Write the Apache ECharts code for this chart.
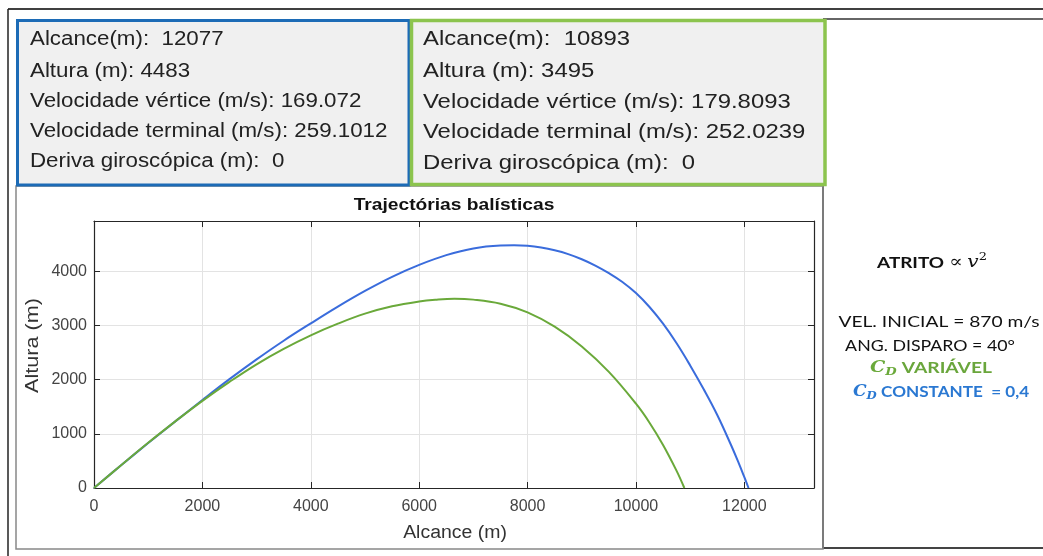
<!DOCTYPE html>
<html><head><meta charset="utf-8">
<script src="https://cdn.jsdelivr.net/npm/echarts@6/dist/echarts.min.js"></script>
<style>html,body{margin:0;padding:0;background:#fff}#c{width:1043px;height:556px}</style>
</head><body><div id="c"></div>
<script>
// ---- data ----
const blueX = [0, 500, 1000, 1500, 2000, 2500, 3000, 3500, 4000, 4500, 5000, 5500, 6000, 6500, 7000, 7500, 7750, 8000, 8250, 8500, 8750, 9000, 9250, 9500, 9750, 10000, 10250, 10500, 10750, 11000, 11250, 11500, 11750, 11900, 12000, 12077];
const blueY = [0, 420, 830, 1230, 1625, 2010, 2375, 2720, 3040, 3350, 3640, 3900, 4120, 4300, 4425, 4478, 4483, 4473, 4442, 4391, 4320, 4225, 4108, 3968, 3805, 3600, 3343, 3034, 2673, 2264, 1823, 1348, 803, 450, 200, 0];
const greenX = [0, 500, 1000, 1500, 2000, 2500, 3000, 3500, 4000, 4500, 5000, 5500, 6000, 6300, 6650, 7000, 7500, 8000, 8500, 9000, 9500, 10000, 10250, 10500, 10750, 10893];
const greenY = [0, 420, 835, 1230, 1610, 1960, 2285, 2570, 2820, 3035, 3220, 3355, 3445, 3477, 3495, 3479, 3404, 3244, 2979, 2614, 2144, 1556, 1206, 796, 317, 0];
const xMax = 13285, yMax = 4931, xStep = 2000, yStep = 1000;
const chartTitle = 'Trajectórias balísticas';
const xName = 'Alcance (m)', yName = 'Altura (m)';
const blueInfo = ['Alcance(m):  12077', 'Altura (m): 4483', 'Velocidade vértice (m/s): 169.072', 'Velocidade terminal (m/s): 259.1012', 'Deriva giroscópica (m):  0'];
const greenInfo = ['Alcance(m):  10893', 'Altura (m): 3495', 'Velocidade vértice (m/s): 179.8093', 'Velocidade terminal (m/s): 252.0239', 'Deriva giroscópica (m):  0'];
const sideLines = ['VEL. INICIAL = 870 m/s', 'ANG. DISPARO = 40°'];

// ---- chart ----
const BLUE = '#3a6cdc', GREEN = '#6aa93a';
const AX = '#262626';
const pairs = (xs, ys) => xs.map((x, i) => [x, ys[i]]);
const SANS = '"Liberation Sans", Arial, sans-serif';

function t(x, y, text, font, fill, align, extra) {
  return Object.assign({
    type: 'text', x: x, y: y,
    style: { text: text, font: font, fill: fill, textAlign: align, align: align, textVerticalAlign: 'middle', verticalAlign: 'middle' }
  }, extra || {});
}

const graphics = [];
// outer frame lines
graphics.push({ type: 'line', shape: { x1: 8, y1: 9, x2: 1043, y2: 9 }, style: { stroke: '#000', lineWidth: 1.5 } });
graphics.push({ type: 'line', shape: { x1: 8, y1: 9, x2: 8, y2: 556 }, style: { stroke: '#222', lineWidth: 1.5 } });
// right panel
graphics.push({ type: 'line', shape: { x1: 823, y1: 19, x2: 1043, y2: 19 }, style: { stroke: '#666', lineWidth: 2 } });
graphics.push({ type: 'line', shape: { x1: 823, y1: 19, x2: 823, y2: 549 }, style: { stroke: '#555', lineWidth: 2 } });
graphics.push({ type: 'line', shape: { x1: 823, y1: 548, x2: 1043, y2: 548 }, style: { stroke: '#444', lineWidth: 2 } });
// plot panel
graphics.push({ type: 'rect', shape: { x: 16, y: 186, width: 807, height: 363 }, style: { fill: 'none', stroke: '#888', lineWidth: 1.5 } });
// info boxes
graphics.push({ type: 'rect', shape: { x: 17.5, y: 20.5, width: 391.5, height: 164.5 }, style: { fill: '#f0f0f0', stroke: '#1c6bb6', lineWidth: 3 } });
graphics.push({ type: 'rect', shape: { x: 411.5, y: 20.5, width: 413.5, height: 164 }, style: { fill: '#f0f0f0', stroke: '#8cc44e', lineWidth: 3.5 } });
const blueYs = [40, 71.5, 101.5, 131.5, 161.5];
blueInfo.forEach((s, i) => graphics.push(t(30, blueYs[i], s, '19.5px ' + SANS, '#222', 'left', { scaleX: 1.145 })));
const greenYs = [39, 71.5, 102, 132.5, 163];
greenInfo.forEach((s, i) => graphics.push(t(423, greenYs[i], s, '20.5px ' + SANS, '#222', 'left', { scaleX: 1.165 })));
// title and axis names
graphics.push(t(454, 205, chartTitle, 'bold 17px ' + SANS, '#111', 'center', { scaleX: 1.13 }));
graphics.push(t(455, 533, xName, '18px ' + SANS, '#333', 'center', { scaleX: 1.08 }));
graphics.push(t(33, 345.5, yName, '18px ' + SANS, '#333', 'center', { rotation: Math.PI / 2, scaleX: 1.2 }));
// side panel
function rich(x, y, text, richStyles, sx) {
  return { type: 'text', x: x, y: y, scaleX: sx, style: { text: text, rich: richStyles, textAlign: 'center', align: 'center', textVerticalAlign: 'middle', verticalAlign: 'middle', font: '16px Lato, sans-serif', fill: '#111' } };
}
graphics.push(rich(932, 263, '{b|ATRITO} {m|∝} {v|v}{s|2}', {
  b: { fontFamily: 'Lato', fontWeight: 'bold', fontSize: 16, fill: '#111', lineHeight: 22 },
  m: { fontFamily: 'DejaVu Serif', fontSize: 17, fill: '#111', lineHeight: 22 },
  v: { fontFamily: 'DejaVu Serif', fontStyle: 'italic', fontSize: 17, fill: '#111', lineHeight: 22 },
  s: { fontFamily: 'DejaVu Serif', fontSize: 11, fill: '#111', verticalAlign: 'top', lineHeight: 12 }
}, 1.18));
graphics.push(rich(939, 322, sideLines[0], {}, 1.2));
graphics.push(rich(930, 346, sideLines[1], {}, 1.11));
graphics.push(rich(931, 368, '{c|C}{d|D} {b|VARIÁVEL}', {
  c: { fontFamily: 'DejaVu Serif', fontStyle: 'italic', fontWeight: 'bold', fontSize: 16, fill: GREEN, lineHeight: 20 },
  d: { fontFamily: 'DejaVu Serif', fontStyle: 'italic', fontWeight: 'bold', fontSize: 11, fill: GREEN, verticalAlign: 'bottom', lineHeight: 13 },
  b: { fontFamily: 'Lato', fontWeight: 'bold', fontSize: 16, fill: '#6aa63c', lineHeight: 20 }
}, 1.2));
graphics.push(rich(941, 392, '{c|C}{d|D} {b|CONSTANTE  = 0,4}', {
  c: { fontFamily: 'DejaVu Serif', fontStyle: 'italic', fontWeight: 'bold', fontSize: 16, fill: '#2a78d2', lineHeight: 20 },
  d: { fontFamily: 'DejaVu Serif', fontStyle: 'italic', fontWeight: 'bold', fontSize: 11, fill: '#2a78d2', verticalAlign: 'bottom', lineHeight: 13 },
  b: { fontFamily: 'Lato', fontWeight: 'bold', fontSize: 16, fill: '#2a78d2', lineHeight: 20 }
}, 1.07));

const axBase = {
  type: 'value', min: 0,
  axisLine: { show: true, onZero: false, lineStyle: { color: AX, width: 1.2 } },
  axisTick: { show: true, inside: true, length: 6, lineStyle: { color: AX } },
};
const plain = v => String(v);
const chart = echarts.init(document.getElementById('c'));
chart.setOption({
  animation: false,
  backgroundColor: '#fff',
  textStyle: { fontFamily: SANS },
  grid: { left: 94, top: 221, width: 720, height: 267, containLabel: false },
  xAxis: [
    Object.assign({}, axBase, { max: xMax, interval: xStep, position: 'bottom',
      axisLabel: { fontSize: 16, color: '#444', margin: 11, showMaxLabel: false, formatter: plain },
      splitLine: { show: true, lineStyle: { color: '#e3e3e3', width: 1 } } }),
    Object.assign({}, axBase, { max: xMax, interval: xStep, position: 'top',
      axisLabel: { show: false }, splitLine: { show: false } })
  ],
  yAxis: [
    Object.assign({}, axBase, { max: yMax, interval: yStep, position: 'left',
      axisLabel: { fontSize: 16, color: '#444', margin: 7, showMaxLabel: false, formatter: plain },
      splitLine: { show: true, lineStyle: { color: '#e3e3e3', width: 1 } } }),
    Object.assign({}, axBase, { max: yMax, interval: yStep, position: 'right',
      axisLabel: { show: false }, splitLine: { show: false } })
  ],
  series: [
    { type: 'line', data: pairs(blueX, blueY), smooth: 0.4, showSymbol: false, lineStyle: { color: BLUE, width: 2 }, itemStyle: { color: BLUE } },
    { type: 'line', data: pairs(greenX, greenY), smooth: 0.4, showSymbol: false, lineStyle: { color: GREEN, width: 2 }, itemStyle: { color: GREEN } }
  ],
  graphic: { elements: graphics }
});
</script></body></html>
